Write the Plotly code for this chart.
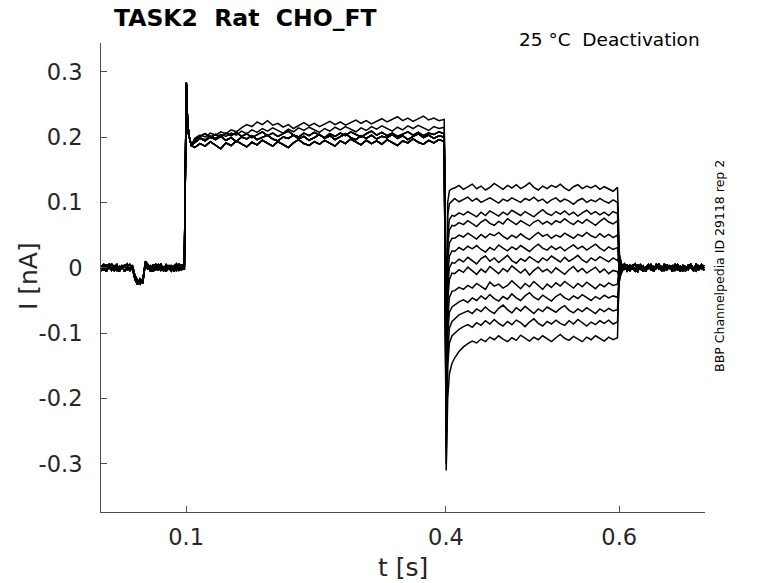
import numpy as np
import plotly.graph_objects as go

# ---------------- time grids (s) ----------------
t_base = np.linspace(0.002, 0.098, 33)
t_onset = [0.1003, 0.1015, 0.103, 0.106]
t_act = np.linspace(0.110, 0.398, 49)
t_tail_start = [0.4003, 0.402, 0.404, 0.407]
t_tail = np.linspace(0.410, 0.598, 38)
t_kick = [0.6003]
t_post = np.linspace(0.603, 0.698, 32)

# ---------------- baseline (nA) ----------------
base_a = [0.003, -0.004, 0.005, -0.001, 0.006, -0.005, 0.002, -0.003, 0.004, -0.006, 0.001, 0.005, -0.002,
          -0.016, -0.022, -0.019, -0.024, 0.008, 0.002, -0.004, 0.005, -0.003, 0.001, 0.006, -0.005, 0.002,
          -0.002, 0.004, -0.006, 0.003, -0.001, 0.005, -0.003]
base_b = [-0.005, 0.002, -0.003, 0.006, -0.004, 0.001, 0.005, -0.006, 0.002, 0.004, -0.003, -0.001, 0.004,
          -0.012, -0.019, -0.025, -0.018, 0.005, -0.003, 0.004, -0.006, 0.002, 0.005, -0.004, 0.001, -0.006,
          0.004, -0.002, 0.003, -0.005, 0.006, -0.003, 0.001]
base_c = [0.001, 0.006, -0.006, 0.003, -0.002, 0.004, -0.005, 0.002, -0.001, 0.003, 0.006, -0.005, 0.001,
          -0.018, -0.026, -0.017, -0.021, 0.010, 0.005, -0.006, 0.000, 0.006, -0.004, 0.003, -0.003, 0.005,
          0.000, -0.005, 0.002, 0.006, -0.004, -0.001, 0.004]

# ---------------- activation step ----------------
onset_vals = [0.283, 0.232, 0.204, 0.187]
act_low = [0.184, 0.190, 0.186, 0.193, 0.188, 0.182, 0.191, 0.187, 0.194, 0.189, 0.185, 0.192, 0.188, 0.195,
           0.190, 0.186, 0.193, 0.189, 0.184, 0.191, 0.196, 0.190, 0.187, 0.193, 0.189, 0.195, 0.191, 0.186,
           0.194, 0.190, 0.197, 0.192, 0.188, 0.195, 0.190, 0.194, 0.189, 0.196, 0.192, 0.187, 0.194, 0.191,
           0.197, 0.192, 0.189, 0.195, 0.191, 0.196, 0.193]
act_mid = [0.192, 0.198, 0.194, 0.200, 0.196, 0.201, 0.195, 0.199, 0.193, 0.200, 0.197, 0.202, 0.196, 0.199,
           0.203, 0.197, 0.194, 0.200, 0.198, 0.203, 0.197, 0.201, 0.195, 0.199, 0.204, 0.198, 0.202, 0.196,
           0.200, 0.205, 0.199, 0.196, 0.202, 0.198, 0.203, 0.197, 0.201, 0.199, 0.204, 0.198, 0.202, 0.196,
           0.201, 0.205, 0.199, 0.203, 0.198, 0.202, 0.200]
act_mid2 = [0.196, 0.201, 0.205, 0.199, 0.204, 0.200, 0.206, 0.202, 0.207, 0.201, 0.205, 0.199, 0.204, 0.208,
            0.202, 0.206, 0.201, 0.205, 0.209, 0.203, 0.200, 0.206, 0.202, 0.207, 0.203, 0.199, 0.205, 0.201,
            0.206, 0.202, 0.208, 0.204, 0.200, 0.205, 0.209, 0.203, 0.207, 0.202, 0.206, 0.201, 0.205, 0.208,
            0.203, 0.207, 0.202, 0.206, 0.204, 0.208, 0.205]
act_upper = [0.194, 0.199, 0.196, 0.202, 0.198, 0.204, 0.201, 0.206, 0.203, 0.209, 0.205, 0.211, 0.207, 0.213,
             0.209, 0.214, 0.210, 0.206, 0.212, 0.208, 0.214, 0.210, 0.215, 0.211, 0.207, 0.213, 0.209, 0.215,
             0.211, 0.216, 0.212, 0.208, 0.214, 0.210, 0.216, 0.212, 0.217, 0.213, 0.209, 0.215, 0.211, 0.217,
             0.213, 0.218, 0.214, 0.210, 0.216, 0.213, 0.215]
act_high = [0.198, 0.203, 0.200, 0.206, 0.203, 0.208, 0.205, 0.211, 0.208, 0.214, 0.219, 0.216, 0.223, 0.219,
            0.225, 0.218, 0.221, 0.215, 0.219, 0.213, 0.218, 0.222, 0.217, 0.221, 0.216, 0.220, 0.224, 0.219,
            0.223, 0.218, 0.222, 0.226, 0.221, 0.225, 0.220, 0.224, 0.228, 0.223, 0.227, 0.231, 0.225, 0.229,
            0.224, 0.228, 0.232, 0.226, 0.229, 0.225, 0.227]

# ---------------- tail currents (one per sweep) ----------------
tail_start = [[-0.12, 0.10, 0.118, 0.121], [-0.14, 0.08, 0.098, 0.102], [-0.16, 0.05, 0.074, 0.080],
              [-0.18, 0.035, 0.058, 0.065], [-0.20, 0.012, 0.038, 0.045], [-0.21, -0.01, 0.018, 0.026],
              [-0.23, -0.03, 0.000, 0.008], [-0.24, -0.05, -0.018, -0.008], [-0.26, -0.08, -0.045, -0.036],
              [-0.27, -0.10, -0.068, -0.060], [-0.28, -0.13, -0.092, -0.082], [-0.30, -0.15, -0.115, -0.104],
              [-0.31, -0.20, -0.162, -0.146]]
tail_01 = [0.122, 0.126, 0.120, 0.124, 0.128, 0.121, 0.125, 0.119, 0.123, 0.129, 0.124, 0.120, 0.126, 0.122,
           0.127, 0.121, 0.125, 0.130, 0.123, 0.119, 0.125, 0.121, 0.126, 0.123, 0.128, 0.122, 0.118, 0.124,
           0.127, 0.121, 0.125, 0.122, 0.126, 0.120, 0.124, 0.121, 0.117, 0.123]
tail_02 = [0.106, 0.101, 0.105, 0.108, 0.102, 0.106, 0.100, 0.104, 0.107, 0.103, 0.099, 0.105, 0.102, 0.107,
           0.104, 0.100, 0.106, 0.103, 0.108, 0.102, 0.105, 0.099, 0.104, 0.107, 0.101, 0.105, 0.102, 0.097,
           0.103, 0.106, 0.100, 0.104, 0.101, 0.106, 0.102, 0.099, 0.104, 0.100]
tail_03 = [0.079, 0.084, 0.081, 0.086, 0.082, 0.078, 0.085, 0.080, 0.087, 0.083, 0.079, 0.085, 0.081, 0.088,
           0.084, 0.080, 0.086, 0.082, 0.078, 0.084, 0.089, 0.083, 0.080, 0.086, 0.082, 0.087, 0.081, 0.085,
           0.079, 0.084, 0.088, 0.082, 0.086, 0.081, 0.085, 0.080, 0.086, 0.083]
tail_04 = [0.064, 0.069, 0.066, 0.072, 0.067, 0.063, 0.070, 0.074, 0.068, 0.065, 0.071, 0.067, 0.075, 0.070,
           0.066, 0.072, 0.068, 0.064, 0.070, 0.073, 0.067, 0.071, 0.066, 0.072, 0.069, 0.075, 0.070, 0.066,
           0.072, 0.068, 0.074, 0.069, 0.065, 0.071, 0.076, 0.070, 0.067, 0.072]
tail_05 = [0.045, 0.050, 0.047, 0.053, 0.048, 0.044, 0.051, 0.046, 0.052, 0.049, 0.054, 0.048, 0.044, 0.050,
           0.046, 0.052, 0.047, 0.043, 0.049, 0.054, 0.048, 0.051, 0.045, 0.050, 0.047, 0.053, 0.049, 0.045,
           0.051, 0.048, 0.054, 0.049, 0.046, 0.052, 0.047, 0.051, 0.046, 0.050]
tail_06 = [0.025, 0.031, 0.027, 0.033, 0.029, 0.034, 0.028, 0.024, 0.031, 0.027, 0.035, 0.030, 0.026, 0.032,
           0.028, 0.034, 0.029, 0.025, 0.031, 0.036, 0.030, 0.027, 0.033, 0.028, 0.032, 0.026, 0.031, 0.035,
           0.029, 0.033, 0.027, 0.031, 0.036, 0.030, 0.026, 0.032, 0.028, 0.031]
tail_07 = [0.007, 0.013, 0.009, 0.016, 0.011, 0.006, 0.014, 0.018, 0.010, 0.015, 0.008, 0.013, 0.019, 0.011,
           0.007, 0.014, 0.010, 0.017, 0.012, 0.008, 0.015, 0.011, 0.018, 0.013, 0.009, 0.016, 0.010, 0.014,
           0.019, 0.012, 0.008, 0.015, 0.011, 0.017, 0.013, 0.009, 0.015, 0.011]
tail_08 = [-0.009, -0.003, -0.007, 0.001, -0.005, -0.010, -0.002, -0.007, 0.002, -0.004, -0.009, -0.001,
           -0.006, 0.003, -0.003, -0.008, -0.002, -0.011, -0.004, 0.001, -0.006, -0.002, -0.008, 0.000,
           -0.005, -0.010, -0.003, 0.002, -0.006, -0.001, -0.008, -0.003, 0.001, -0.007, -0.002, -0.009,
           -0.004, -0.006]
tail_09 = [-0.035, -0.030, -0.033, -0.027, -0.031, -0.024, -0.029, -0.033, -0.022, -0.028, -0.025, -0.031,
           -0.027, -0.020, -0.026, -0.032, -0.024, -0.029, -0.021, -0.027, -0.033, -0.025, -0.030, -0.023,
           -0.028, -0.021, -0.026, -0.031, -0.024, -0.029, -0.022, -0.027, -0.032, -0.025, -0.029, -0.023,
           -0.027, -0.025]
tail_10 = [-0.057, -0.052, -0.049, -0.053, -0.046, -0.050, -0.043, -0.048, -0.041, -0.047, -0.051, -0.044,
           -0.048, -0.040, -0.046, -0.050, -0.043, -0.038, -0.045, -0.049, -0.042, -0.047, -0.051, -0.044,
           -0.040, -0.046, -0.049, -0.043, -0.047, -0.041, -0.046, -0.050, -0.044, -0.048, -0.042, -0.046,
           -0.043, -0.045]
tail_11 = [-0.078, -0.072, -0.069, -0.066, -0.070, -0.063, -0.067, -0.060, -0.066, -0.070, -0.062, -0.057,
           -0.064, -0.069, -0.061, -0.066, -0.059, -0.065, -0.070, -0.063, -0.067, -0.060, -0.064, -0.068,
           -0.062, -0.058, -0.065, -0.069, -0.063, -0.067, -0.061, -0.066, -0.070, -0.063, -0.067, -0.062,
           -0.066, -0.064]
tail_12 = [-0.100, -0.094, -0.090, -0.087, -0.091, -0.084, -0.088, -0.081, -0.086, -0.079, -0.085, -0.089,
           -0.082, -0.087, -0.080, -0.084, -0.090, -0.083, -0.078, -0.085, -0.089, -0.082, -0.086, -0.080,
           -0.085, -0.088, -0.081, -0.086, -0.079, -0.084, -0.089, -0.083, -0.087, -0.081, -0.085, -0.080,
           -0.086, -0.083]
tail_13 = [-0.138, -0.128, -0.121, -0.116, -0.112, -0.115, -0.109, -0.113, -0.106, -0.110, -0.104, -0.109,
           -0.113, -0.107, -0.111, -0.103, -0.108, -0.112, -0.106, -0.110, -0.104, -0.109, -0.113, -0.107,
           -0.102, -0.108, -0.111, -0.105, -0.109, -0.113, -0.106, -0.110, -0.104, -0.108, -0.112, -0.106,
           -0.110, -0.107]

# ---------------- return to holding ----------------
post_kick = [0.018, -0.015, 0.012, -0.018, 0.015, -0.010, 0.020, -0.016, 0.010, -0.020, 0.014, -0.012, 0.016]
post_a = [0.004, -0.003, 0.005, -0.005, 0.002, 0.006, -0.002, 0.003, -0.006, 0.001, 0.005, -0.004, 0.002,
          -0.001, 0.006, -0.005, 0.003, -0.002, 0.004, -0.006, 0.001, 0.005, -0.003, 0.002, -0.005, 0.004,
          0.000, -0.004, 0.006, -0.002, 0.003, -0.004]
post_b = [-0.006, 0.002, -0.003, 0.004, -0.001, -0.005, 0.005, -0.002, 0.003, -0.006, 0.004, 0.000, -0.004,
          0.006, -0.002, 0.002, -0.005, 0.005, -0.001, 0.003, -0.004, 0.001, -0.006, 0.004, 0.002, -0.003,
          0.005, -0.001, -0.005, 0.003, -0.002, 0.004]
post_c = [0.002, 0.006, -0.005, 0.000, 0.004, -0.003, -0.006, 0.005, 0.001, -0.003, -0.001, 0.006, -0.006,
          0.003, 0.000, -0.004, 0.006, -0.003, 0.002, 0.000, 0.005, -0.004, 0.003, -0.006, 0.001, -0.001,
          0.006, -0.005, 0.002, -0.003, 0.005, -0.001]

tails = [tail_01, tail_02, tail_03, tail_04, tail_05, tail_06, tail_07,
         tail_08, tail_09, tail_10, tail_11, tail_12, tail_13]
bases = [base_a, base_b, base_c]
posts = [post_a, post_b, post_c]
acts = [act_high, act_upper, act_mid2, act_low, act_mid, act_low, act_mid2,
        act_mid, act_low, act_mid, act_low, act_mid2, act_mid]

t_all = np.concatenate([t_base, t_onset, t_act, t_tail_start, t_tail, t_kick, t_post])

fig = go.Figure()
for i, tail in enumerate(tails):
    y = np.concatenate([bases[i % 3], onset_vals, acts[i], tail_start[i], tail,
                        [post_kick[i]], posts[i % 3]])
    fig.add_trace(go.Scatter(x=t_all, y=y, mode="lines",
                             line=dict(color="black", width=1.5),
                             showlegend=False, hoverinfo="skip"))

FONT = "DejaVu Sans"
AX = "#4d4d4d"
TXT = "#262626"
fig.update_layout(
    width=778, height=583,
    margin=dict(l=101, r=73, t=43, b=71),
    paper_bgcolor="white", plot_bgcolor="white",
    font=dict(family=FONT, color=TXT),
    showlegend=False,
    xaxis=dict(range=[0.0018, 0.699], tickvals=[0.1, 0.4, 0.6], ticktext=["0.1", "0.4", "0.6"],
               automargin=False,
               ticks="inside", ticklen=6, tickcolor=AX, showline=True, linecolor=AX,
               linewidth=1, showgrid=False, zeroline=False, tickfont=dict(size=22.5, color=TXT),
               ticklabelstandoff=5),
    yaxis=dict(range=[-0.3735, 0.3438], tickvals=[-0.3, -0.2, -0.1, 0, 0.1, 0.2, 0.3],
               ticktext=["-0.3", "-0.2", "-0.1", "0", "0.1", "0.2", "0.3"],
               automargin=False,
               ticks="inside", ticklen=6, tickcolor=AX, showline=True, linecolor=AX,
               linewidth=1, showgrid=False, zeroline=False, tickfont=dict(size=22.5, color=TXT),
               ticklabelstandoff=13),
    annotations=[
        dict(text="I [nA]", xref="paper", yref="paper", x=-0.1209, y=0.503,
             xanchor="center", yanchor="middle", textangle=-90, showarrow=False,
             font=dict(size=25, color=TXT)),
        dict(text="t [s]", xref="paper", yref="paper", x=0.5, y=-0.1173,
             xanchor="center", yanchor="middle", showarrow=False,
             font=dict(size=25, color=TXT)),
        dict(text="<b>TASK2  Rat  CHO_FT</b>", xref="paper", yref="paper", x=0.018, y=1.053,
             xanchor="left", yanchor="middle", showarrow=False, font=dict(size=23.5, color="black")),
        dict(text="25 °C  Deactivation", xref="paper", yref="paper", x=0.995, y=1.0064,
             xanchor="right", yanchor="middle", showarrow=False, font=dict(size=18.5, color="black")),
        dict(text="BBP Channelpedia ID 29118 rep 2", xref="paper", yref="paper", x=1.023, y=0.5245,
             xanchor="center", yanchor="middle", textangle=-90, showarrow=False,
             font=dict(size=12.5, color="black")),
    ],
)

fig.write_html("out.html", config={"displayModeBar": False},
               post_script="document.body.style.margin='0';")
